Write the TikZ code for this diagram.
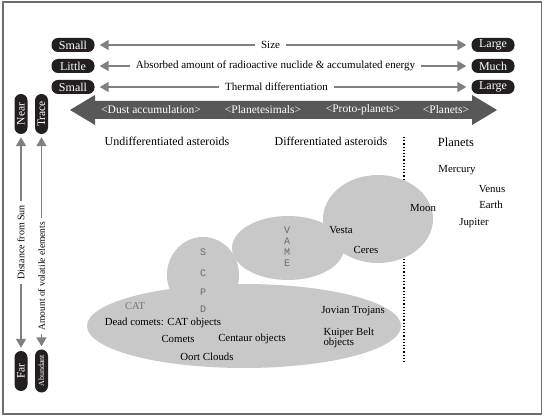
\documentclass[tikz,border=0pt]{standalone}
\usepackage{fontspec}
\setmainfont{Liberation Serif}
\setmonofont{Liberation Mono}
\usetikzlibrary{arrows.meta}
\definecolor{pilldark}{HTML}{231F20}
\definecolor{bandgray}{HTML}{595757}
\definecolor{arrowgray}{HTML}{808080}
\definecolor{blobgray}{HTML}{C8C8C8}
\definecolor{framegray}{HTML}{6D6D6D}
\tikzset{
  pill/.style={fill=pilldark, text=white, rounded corners=6.5pt, minimum width=43pt,
    minimum height=14pt, inner sep=0pt, font=\fontsize{12}{13}\selectfont},
  vpill/.style={pill, rotate=90, minimum width=40pt, minimum height=13pt,
    font=\fontsize{11.5}{12}\selectfont},
  scalearrow/.style={draw=arrowgray, line width=1.6pt,
    {Triangle[length=9pt,width=10pt]}-{Triangle[length=9pt,width=10pt]},
    shorten <=5pt, shorten >=5pt},
  scalelabel/.style={fill=white, text=black, inner xsep=6pt, inner ysep=1pt,
    font=\fontsize{11}{12}\selectfont},
  blob/.style={fill=blobgray},
  body/.style={font=\fontsize{10.8}{12}\selectfont},
  letters/.style={text=gray!85!black, font=\ttfamily\fontsize{10}{10}\selectfont}
}
\begin{document}
\begin{tikzpicture}[x=1pt, y=-1pt]
\useasboundingbox (0,0) rectangle (546,419);
\draw[framegray, line width=1.5pt] (3,2) rectangle (541.5,414);
% scale rows
\node[pill] (small1) at (73,45) {Small};
\node[pill] (little) at (73,66) {Little};
\node[pill] (small2) at (73,87) {Small};
\node[pill] (large1) at (493,45) {Large};
\node[pill] (much) at (493,66) {Much};
\node[pill] (large2) at (493,87) {Large};
\draw[scalearrow] (small1) -- (large1) node[pos=0.467, scalelabel] {Size};
\draw[scalearrow] (little) -- (much) node[pos=0.48, scalelabel] {Absorbed amount of radioactive nuclide \& accumulated energy};
\draw[scalearrow] (small2) -- (large2) node[pos=0.483, scalelabel] {Thermal differentiation};
% evolution band
\fill[bandgray] (70,110) -- (95,95) -- (95,101) -- (472,101) -- (472,95) -- (497,110)
  -- (472,125) -- (472,119) -- (95,119) -- (95,125) -- cycle;
\begin{scope}[every node/.style={text=white, font=\fontsize{11.5}{12}\selectfont}]
\node (dust) at (151,110) {<Dust accumulation>};
\node (plsm) at (263,110) {<Planetesimals>};
\node (proto) at (363,110) {<Proto-planets>};
\node (plan) at (446,110) {<Planets>};
\end{scope}
% vertical scales
\node[vpill] (near) at (21,114) {Near};
\node[vpill] (far) at (21,371) {Far};
\node[vpill] (trace) at (41.5,114) {Trace};
\node[vpill, font=\fontsize{8}{9}\selectfont, minimum width=43pt] (abund) at (41.5,371) {Abundant};
\draw[scalearrow, shorten <=3pt, shorten >=3pt] (near) -- (far) node[pos=0.5, scalelabel, rotate=90, inner xsep=4pt, font=\fontsize{10}{11}\selectfont] {Distance from Sun};
\draw[scalearrow, shorten <=3pt, shorten >=3pt] (trace) -- (abund) node[pos=0.66, scalelabel, rotate=90, inner xsep=4pt, font=\fontsize{9.5}{11}\selectfont] {Amount of volatile elements};
% headings
\node[font=\fontsize{12}{13}\selectfont] (undiff) at (167,141) {Undifferentiated asteroids};
\node[font=\fontsize{12}{13}\selectfont] (diff) at (331,141) {Differentiated asteroids};
\node[font=\fontsize{12.5}{14}\selectfont] (planets) at (456,142) {Planets};
\draw[line width=1.2pt, dotted] (404,137) -- (404,363);
% asteroid groups
\fill[blob] (244,326) ellipse [x radius=157pt, y radius=42pt];
\fill[blob] (203,275) ellipse [x radius=36pt, y radius=38pt];
\fill[blob] (288,248) ellipse [x radius=56pt, y radius=32pt];
\fill[blob] (378,219) ellipse [x radius=55pt, y radius=44pt];
% letters
\foreach \ch/\yy in {S/252, C/273, P/292, D/309}
  \node[letters] at (203,\yy) {\ch};
\foreach \ch/\yy in {V/230, A/241, M/252, E/263}
  \node[letters] at (287,\yy) {\ch};
\node[text=gray!90!black, font=\fontsize{10.5}{12}\selectfont] (cat) at (135,306) {CAT};
% bodies
\begin{scope}[every node/.style={body}]
\node (vesta) at (341,230) {Vesta};
\node (ceres) at (366,250) {Ceres};
\node (moon) at (423,208) {Moon};
\node (mercury) at (457,170) {Mercury};
\node (venus) at (492,189) {Venus};
\node (earth) at (491,205) {Earth};
\node (jupiter) at (474,223) {Jupiter};
\node (dead) at (163,323) {Dead comets: CAT objects};
\node (comets) at (178,339) {Comets};
\node (centaur) at (252,339) {Centaur objects};
\node (oort) at (207,357) {Oort Clouds};
\node (jovian) at (353,311) {Jovian Trojans};
\node[align=left, anchor=west] (kuiper) at (320,338) {Kuiper Belt\\[-1.5pt]objects};
\end{scope}
\end{tikzpicture}
\end{document}
